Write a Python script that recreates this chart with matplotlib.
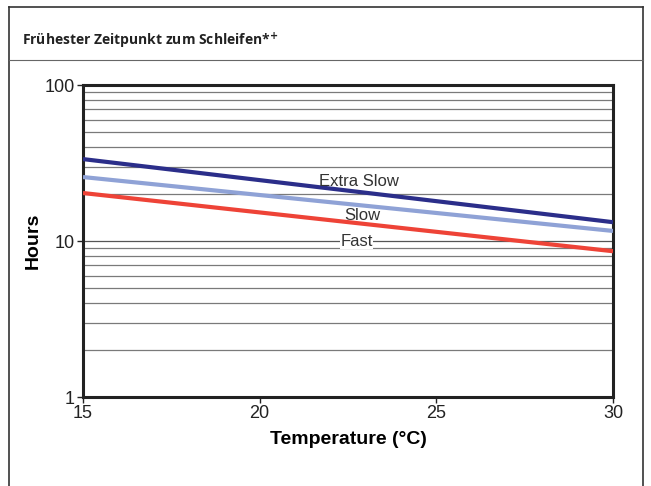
import matplotlib.pyplot as plt
from matplotlib.lines import Line2D
import numpy as np

# data (hours vs temperature)
temps = [15, 30]
extra_slow = [33.5, 13.2]
slow = [25.7, 11.6]
fast = [20.3, 8.6]

series_names = ['Extra Slow', 'Slow', 'Fast']
series_colors = ['#2b2e8a', '#8fa2d6', '#ee4337']

x_ticks = [15, 20, 25, 30]
y_ticks = [1, 10, 100]

plt.rcParams['font.family'] = ['Liberation Sans', 'DejaVu Sans']

fig = plt.figure(figsize=(6.51, 4.86), dpi=100)
ax = fig.add_axes([83 / 651, 1 - 397 / 486, 530 / 651, 312 / 486])

# outer frame and header band
W, H = 651, 486
def fline(x0, y0, x1, y1, lw=1.2, c='#333333'):
    fig.add_artist(Line2D([x0 / W, x1 / W], [1 - y0 / H, 1 - y1 / H],
                          transform=fig.transFigure, color=c, lw=lw))
fline(9, 7, 643, 7)
fline(9, 7, 9, 486)
fline(643, 7, 643, 486)
fline(9, 60, 643, 60, lw=0.8, c='#666666')

fig.text(22 / W, 1 - 41 / H, 'Frühester Zeitpunkt zum Schleifen*$^{\\mathbf{+}}$',
         fontsize=10, fontweight='bold', family=['Open Sans', 'DejaVu Sans'],
         color='#222222', va='center', ha='left')

ax.set_yscale('log')
ax.set_xlim(15, 30)
ax.set_ylim(1, 100)

# horizontal grid at every minor log position
for dec in [1, 10]:
    for m in range(2, 10):
        ax.axhline(dec * m, color='#7a7a7a', lw=0.9, zorder=1)
ax.axhline(10, color='#555555', lw=0.9, zorder=1)

for vals, name, col in zip([extra_slow, slow, fast], series_names, series_colors):
    ax.plot(temps, vals, color=col, lw=3, zorder=3, solid_capstyle='butt')

ax.text(22.8, 24.2, 'Extra Slow', fontsize=12, color='#333333', ha='center', va='center', zorder=4)
ax.text(22.9, 14.6, 'Slow', fontsize=12, color='#333333', ha='center', va='center', zorder=4)
ax.text(22.75, 10.0, 'Fast', fontsize=12, color='#333333', ha='center', va='center', zorder=4,
        bbox=dict(facecolor='white', edgecolor='none', pad=0.2))

for s in ax.spines.values():
    s.set_linewidth(2.2)
    s.set_color('#222222')

ax.set_xticks(x_ticks)
ax.set_xticklabels([str(t) for t in x_ticks])
ax.set_yticks(y_ticks)
ax.set_yticklabels([str(t) for t in y_ticks])
ax.yaxis.set_minor_locator(plt.NullLocator())
ax.tick_params(axis='both', labelsize=13, colors='#222222', length=4, width=1, pad=2)

ax.set_xlabel('Temperature (°C)', fontsize=14, fontweight='bold', labelpad=6)
ax.set_ylabel('Hours', fontsize=14, fontweight='bold', labelpad=2)

fig.savefig('out.png', dpi=100)
